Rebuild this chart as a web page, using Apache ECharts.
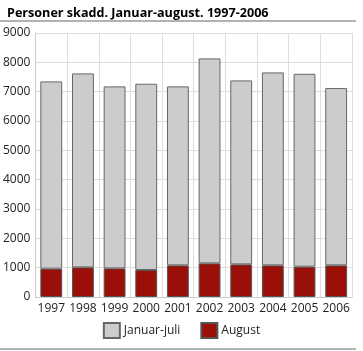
<!DOCTYPE html>
<html><head><meta charset="utf-8">
<script src="https://cdn.jsdelivr.net/npm/echarts@6/dist/echarts.min.js"></script>
<style>html,body{margin:0;padding:0;background:#fff}#c{width:363px;height:351px}</style>
</head><body><div id="c"></div>
<script>
const years = ['1997','1998','1999','2000','2001','2002','2003','2004','2005','2006'];
const januarJuli = [6384, 6612, 6204, 6350, 6102, 6987, 6272, 6578, 6575, 6044];
const august = [966, 1010, 976, 920, 1078, 1146, 1112, 1078, 1034, 1078];
const yTicks = {min: 0, max: 9000, interval: 1000};

const chart = echarts.init(document.getElementById('c'), null, {renderer: 'canvas'});
const font = '"Open Sans", sans-serif';
chart.setOption({
  animation: false,
  title: {
    text: 'Personer skadd. Januar-august. 1997-2006',
    left: 2, top: 2,
    textStyle: {fontFamily: font, fontSize: 12.6, fontWeight: 'bold', color: '#000'}
  },
  graphic: [
    {type: 'line', shape: {x1: 0, y1: 21, x2: 356, y2: 21}, style: {stroke: '#999', lineWidth: 1.5}},
    {type: 'line', shape: {x1: 0, y1: 349, x2: 356, y2: 349}, style: {stroke: '#999', lineWidth: 1.5}}
  ],
  grid: {left: 34, right: 11, top: 33, bottom: 54, containLabel: false},
  legend: {
    data: ['Januar-juli', 'August'],
    bottom: 7, left: 'center',
    icon: 'rect',
    itemWidth: 16, itemHeight: 15, itemGap: 20,
    textStyle: {fontFamily: font, fontSize: 12, color: '#222', padding: [0, 0, 0, -1]}
  },
  xAxis: {
    type: 'category', data: years,
    axisLine: {show: true, lineStyle: {color: '#ccc'}},
    axisTick: {show: false},
    splitLine: {show: true, lineStyle: {color: '#ddd', width: 1}},
    axisLabel: {fontFamily: font, fontSize: 12, color: '#222', margin: 6, interval: 0}
  },
  yAxis: {
    type: 'value', min: yTicks.min, max: yTicks.max, interval: yTicks.interval,
    axisLine: {show: true, lineStyle: {color: '#ccc'}},
    axisTick: {show: false},
    splitLine: {show: true, lineStyle: {color: '#ddd', width: 1}},
    axisLabel: {fontFamily: font, fontSize: 12, color: '#222', margin: 5, formatter: v => String(v)}
  },
  series: [
    {name: 'August', type: 'bar', stack: 'a', data: august, barCategoryGap: '31%',
     itemStyle: {color: '#9a0f08', borderColor: '#555', borderWidth: 1}},
    {name: 'Januar-juli', type: 'bar', stack: 'a', data: januarJuli, barCategoryGap: '31%',
     itemStyle: {color: '#cccccc', borderColor: '#666', borderWidth: 1}}
  ]
});
</script></body></html>
